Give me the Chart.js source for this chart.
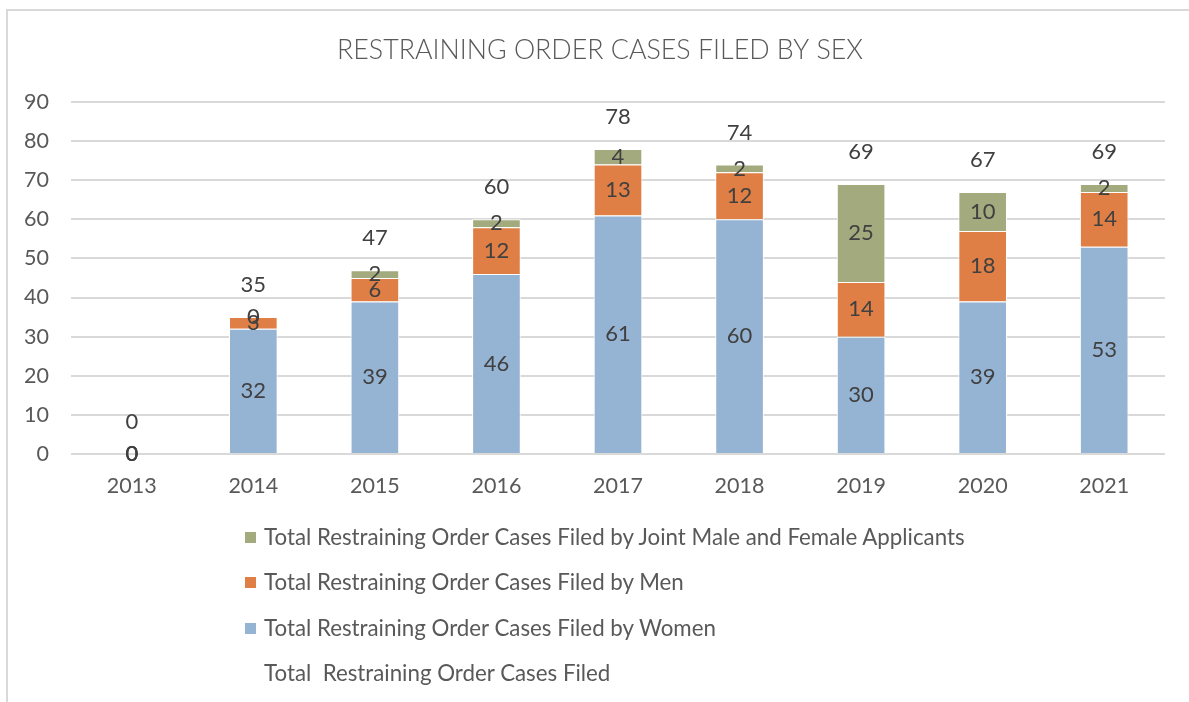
<!DOCTYPE html>
<html>
<head>
<meta charset="utf-8">
<script src="https://cdn.jsdelivr.net/npm/chart.js@4.4.1/dist/chart.umd.min.js"></script>
<style>
  html, body { margin: 0; padding: 0; background: #fff; }
  #wrap { position: relative; width: 1189px; height: 702px; overflow: hidden; }
  #frame { position: absolute; left: 6px; top: 9px; width: 1200px; height: 720px; border-top: 2px solid #D9D9D9; border-left: 2px solid #D9D9D9; box-sizing: border-box; }
  #c { position: absolute; left: 0; top: 0; }
  #legend { position: absolute; left: 245px; top: 524px; font-family: Lato, "Noto Sans", sans-serif; font-size: 22.3px; line-height: 26px; color: #595959; }
  .item { height: 45.3px; display: flex; align-items: flex-start; white-space: pre; }
  .sw { width: 11px; height: 11px; margin-right: 8px; margin-top: 8px; flex: none; }
</style>
</head>
<body>
<div id="wrap">
  <div id="frame"></div>
  <canvas id="c" width="1189" height="702"></canvas>
  <div id="legend"></div>
</div>
<script>
const categories = ["2013", "2014", "2015", "2016", "2017", "2018", "2019", "2020", "2021"];
const women = [0, 32, 39, 46, 61, 60, 30, 39, 53];
const men = [0, 3, 6, 12, 13, 12, 14, 18, 14];
const joint = [0, 0, 2, 2, 4, 2, 25, 10, 2];
const total = [0, 35, 47, 60, 78, 74, 69, 67, 69];
const seriesNames = [
  "Total Restraining Order Cases Filed by Women",
  "Total Restraining Order Cases Filed by Men",
  "Total Restraining Order Cases Filed by Joint Male and Female Applicants",
  "Total  Restraining Order Cases Filed"
];
const colors = ["#95B3D3", "#DF7F46", "#A3AB7E", "transparent"];
const titleText = "RESTRAINING ORDER CASES FILED BY SEX";

const labelFont = '22px Lato, "Noto Sans", sans-serif';
const dataLabels = {
  id: 'dataLabels',
  afterLayout(chart) {
    // centre the title over the whole frame, as in the original
    if (chart.titleBlock) { chart.titleBlock.left += 24; }
  },
  afterDatasetsDraw(chart) {
    const ctx = chart.ctx;
    ctx.save();
    ctx.font = labelFont;
    ctx.fillStyle = '#404040';
    ctx.textAlign = 'center';
    ctx.textBaseline = 'middle';
    chart.data.datasets.forEach((ds, di) => {
      const meta = chart.getDatasetMeta(di);
      meta.data.forEach((el, i) => {
        const v = ds.data[i];
        if (ds.type === 'line') {
          ctx.fillText(String(v), el.x, el.y - 32);
        } else {
          ctx.fillText(String(v), el.x, (el.y + el.base) / 2);
        }
      });
    });
    ctx.restore();
  }
};

const datasets = [
  { type: 'bar', label: seriesNames[0], data: women, backgroundColor: colors[0], borderColor: '#fff', borderWidth: 1, stack: 's', order: 2 },
  { type: 'bar', label: seriesNames[1], data: men, backgroundColor: colors[1], borderColor: '#fff', borderWidth: 1, stack: 's', order: 2 },
  { type: 'bar', label: seriesNames[2], data: joint, backgroundColor: colors[2], borderColor: '#fff', borderWidth: 1, stack: 's', order: 2 },
  { type: 'line', label: seriesNames[3], data: total, showLine: false, pointRadius: 0, borderColor: 'transparent', backgroundColor: 'transparent', stack: 't', order: 1 }
];

new Chart(document.getElementById('c'), {
  data: { labels: categories, datasets },
  options: {
    responsive: false,
    animation: false,
    layout: { padding: { left: 11, right: 24, top: 12, bottom: 200 } },
    datasets: { bar: { barPercentage: 0.4, categoryPercentage: 1 } },
    plugins: {
      legend: { display: false },
      tooltip: { enabled: false },
      title: {
        display: true, text: titleText, color: '#595959',
        font: { family: 'Lato, "Noto Sans", sans-serif', size: 26.8, weight: 300, lineHeight: 1.2 },
        padding: { top: 22.3, bottom: 35.5 }
      }
    },
    scales: {
      x: {
        stacked: true,
        grid: { display: false },
        border: { display: false },
        ticks: { color: '#595959', font: { family: 'Lato, "Noto Sans", sans-serif', size: 21.5 }, padding: 11, maxRotation: 0 },
        afterFit: s => { s.height = 48; }
      },
      y: {
        stacked: true,
        min: 0, max: 90,
        ticks: { stepSize: 10, color: '#595959', font: { family: 'Lato, "Noto Sans", sans-serif', size: 21.5 }, padding: 22 },
        grid: { color: '#D9D9D9', lineWidth: 2, drawTicks: false },
        border: { display: false },
        afterFit: s => { s.width = 60; }
      }
    }
  },
  plugins: [dataLabels]
});

// legend (Excel order: reversed, total last)
const leg = document.getElementById('legend');
[2, 1, 0, 3].forEach(i => {
  const row = document.createElement('div');
  row.className = 'item';
  const sw = document.createElement('span');
  sw.className = 'sw';
  sw.style.background = colors[i];
  const tx = document.createElement('span');
  tx.textContent = seriesNames[i];
  row.appendChild(sw); row.appendChild(tx);
  leg.appendChild(row);
});
</script>
</body>
</html>
